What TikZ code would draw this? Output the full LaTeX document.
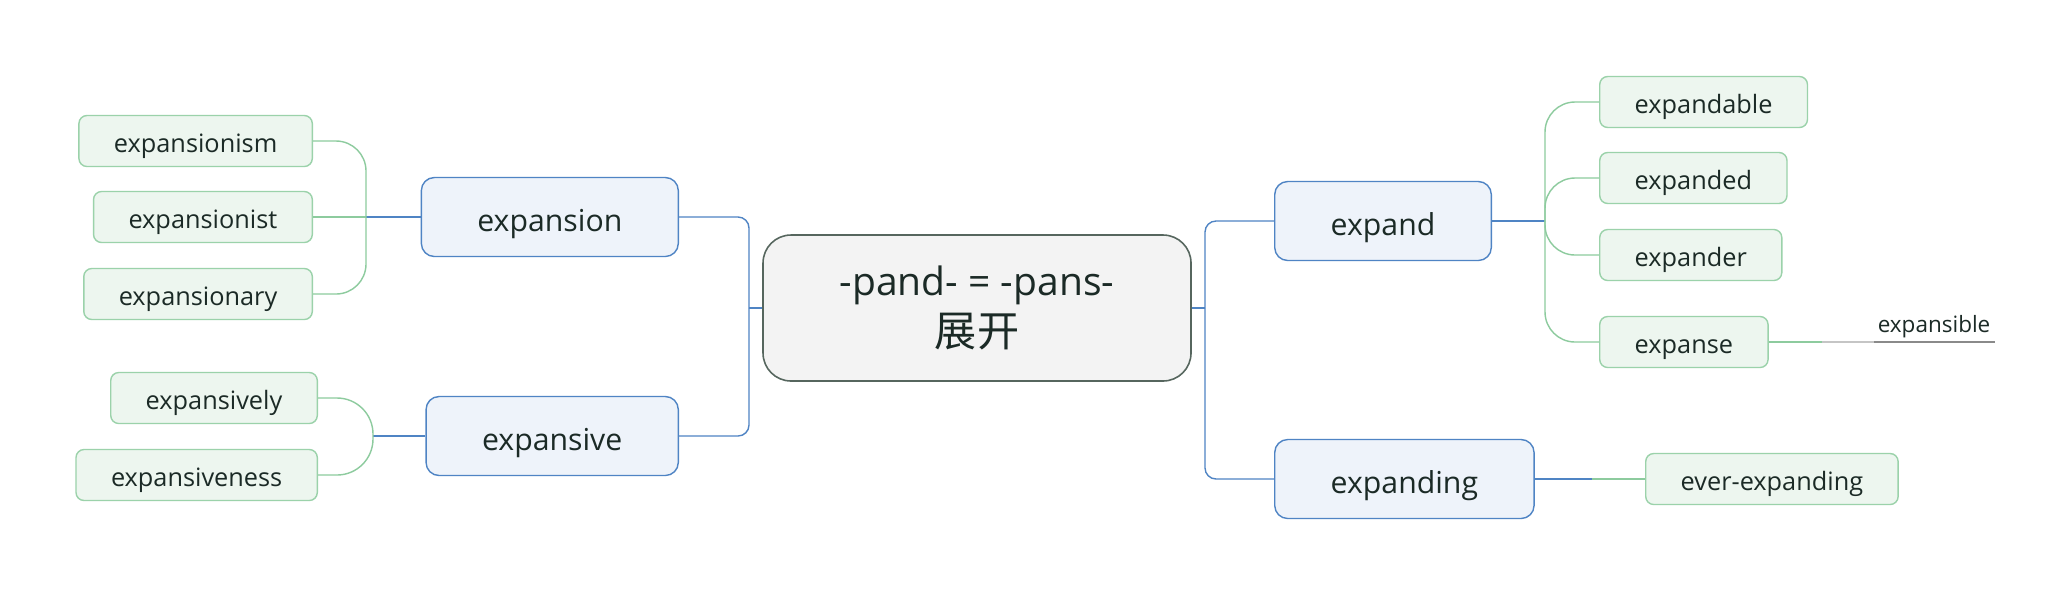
\documentclass[tikz,border=0pt]{standalone}
\usepackage{fontspec}
\setmainfont{Open Sans}
\newfontfamily\cjk[Scale=1.08]{Noto Sans CJK SC}
\definecolor{inkdark}{HTML}{1B2A26}
\definecolor{centrefill}{HTML}{F3F3F3}
\definecolor{centreline}{HTML}{56665E}
\definecolor{topicfill}{HTML}{EEF3FA}
\definecolor{topicline}{HTML}{4F84C4}
\definecolor{subfill}{HTML}{EDF6EF}
\definecolor{subline}{HTML}{9BD2AA}
\definecolor{sublink}{HTML}{8DCB9E}
\definecolor{freeline}{HTML}{8A8A8A}

\begin{document}
\begin{tikzpicture}[x=0.1mm, y=-0.1mm, text=inkdark,
  centre/.style={draw=centreline, fill=centrefill, line width=0.45pt, rounded corners=2.8mm,
    minimum width=42.8mm, minimum height=14.6mm, align=center, font=\fontsize{11.1}{14.6}\selectfont},
  maintopic/.style={draw=topicline, fill=topicfill, line width=0.4pt, rounded corners=1.3mm,
    minimum height=7.9mm, inner xsep=5.6mm, inner ysep=1pt, text height=10.2pt, text depth=2.2pt,
    font=\fontsize{8.6}{10}\selectfont},
  subtopic/.style={draw=subline, fill=subfill, line width=0.4pt, rounded corners=0.8mm,
    minimum height=5.1mm, inner xsep=3.5mm, inner ysep=1pt, text height=8.1pt, text depth=1.7pt,
    font=\fontsize{7.2}{9}\selectfont},
  freetopic/.style={font=\fontsize{6.4}{8}\selectfont, inner xsep=0.4mm, inner ysep=0.3mm},
  tlink/.style={draw=topicline, line width=0.4pt},
  slink/.style={draw=sublink, line width=0.4pt},
  flink/.style={draw=freeline, line width=0.4pt}]

\path[use as bounding box, fill=white] (0,0) rectangle (2072,596);

%% ===================== central topic =====================
\node[centre] (root) at (977,308) {-pand- = -pans-\\{\cjk 展开}};

%% ===================== main topics =====================
\node[maintopic, anchor=east] (expansion) at (679,217) {expansion};
\node[maintopic, anchor=east] (expansive) at (679,436) {expansive};
\node[maintopic, anchor=west] (expand)    at (1274,221) {expand};
\node[maintopic, anchor=west] (expanding) at (1274,479) {expanding};

\coordinate (lj) at (749,308);
\coordinate (rj) at (1205,308);
\draw[tlink] (root.west) -- (lj);
\draw[tlink, rounded corners=1.1mm] (expansion.east) -| (lj);
\draw[tlink, rounded corners=1.1mm] (expansive.east) -| (lj);
\draw[tlink] (root.east) -- (rj);
\draw[tlink, rounded corners=1.1mm] (expand.west) -| (rj);
\draw[tlink, rounded corners=1.1mm] (expanding.west) -| (rj);

%% ===================== left subtopics =====================
\node[subtopic, anchor=east] (expansionism)  at (313,141) {expansionism};
\node[subtopic, anchor=east] (expansionist)  at (313,217) {expansionist};
\node[subtopic, anchor=east] (expansionary)  at (313,294) {expansionary};
\node[subtopic, anchor=east] (expansively)   at (318,398) {expansively};
\node[subtopic, anchor=east] (expansiveness) at (318,475) {expansiveness};

\coordinate (ej) at (366,217);
\coordinate (kj) at (373,436);
\draw[tlink] (expansion.west) -- (ej);
\draw[slink, rounded corners=3mm] (expansionism.east) -| (ej);
\draw[slink] (expansionist.east) -- (ej);
\draw[slink, rounded corners=3mm] (expansionary.east) -| (ej);
\draw[tlink] (expansive.west) -- (kj);
\draw[slink, rounded corners=3.6mm] (expansively.east) -| (kj);
\draw[slink, rounded corners=3.6mm] (expansiveness.east) -| (kj);

%% ===================== right subtopics =====================
\node[subtopic, anchor=west] (expandable) at (1599,102) {expandable};
\node[subtopic, anchor=west] (expanded)   at (1599,178) {expanded};
\node[subtopic, anchor=west] (expander)   at (1599,255) {expander};
\node[subtopic, anchor=west] (expanse)    at (1599,342) {expanse};
\node[subtopic, anchor=west] (everexp)    at (1645,479) {ever-expanding};
\node[freetopic, anchor=south east] (expansible) at (1995,342) {expansible};

\coordinate (dj) at (1545,221);
\coordinate (gj) at (1592,479);
\coordinate (xj) at (1822,342);
\coordinate (yj) at (1874,342);
\draw[tlink] (expand.east) -- (dj);
\foreach \n in {expandable, expanded, expander, expanse}
  \draw[slink, rounded corners=3mm] (dj) |- (\n.west);
\draw[tlink] (expanding.east) -- (gj);
\draw[slink] (gj) -- (everexp.west);
\draw[slink] (expanse.east) -- (xj);
\draw[flink, draw=freeline!50] (xj) -- (yj);
\draw[flink] (yj) -- (expansible.south east);

\end{tikzpicture}
\end{document}
